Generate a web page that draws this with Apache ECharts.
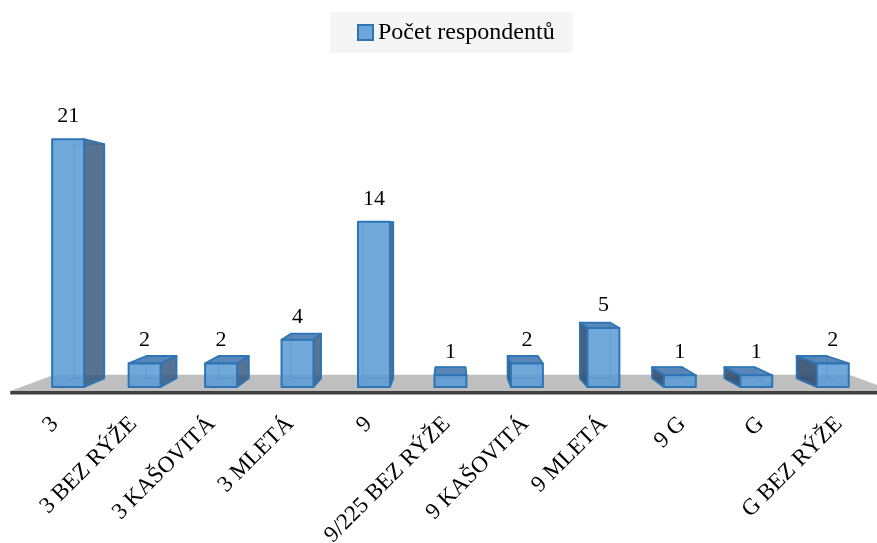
<!DOCTYPE html>
<html>
<head>
<meta charset="utf-8">
<script src="https://cdn.jsdelivr.net/npm/echarts@6/dist/echarts.min.js"></script>
<style>
  html, body { margin: 0; padding: 0; background: #ffffff; }
  #chart { width: 877px; height: 543px; }
</style>
</head>
<body>
<div id="chart"></div>
<script>
// Categories and counts
const categories = ['3', '3 BEZ RÝŽE', '3 KAŠOVITÁ', '3 MLETÁ', '9', '9/225 BEZ RÝŽE',
  '9 KAŠOVITÁ', '9 MLETÁ', '9 G', 'G', 'G BEZ RÝŽE'];
const respondents = [21, 2, 2, 4, 14, 1, 2, 5, 1, 1, 2];
const seriesName = 'Počet respondentů';
const yMax = 25;

// Perspective set-up: the axis plane is the front edge of the floor,
// everything else is scaled toward a vanishing point at the grid centre.
const HORIZON = 0.4645;     // vanishing point height as a share of grid height
const BAR_FRONT = 0.9753;   // scale of the bars' front faces
const BAR_BACK = 0.9217;    // scale of the bars' back faces
const FLOOR_BACK = 0.90;    // scale of the floor's back edge
const BAR_RATIO = 0.418;    // bar width as a share of the category band

const SERIF = '"Liberation Serif", "Times New Roman", serif';

function vanishing(cs) {
  return [cs.x + cs.width / 2, cs.y + cs.height * HORIZON];
}

function renderFloor(params, api) {
  const cs = params.coordSys;
  const [vx, vy] = vanishing(cs);
  const proj = (x, y, s) => [vx + (x - vx) * s, vy + (y - vy) * s];
  const y0 = api.coord([0, 0])[1];
  const xl = cs.x - 9;
  const xr = cs.x + cs.width + 12;
  return {
    type: 'group',
    children: [
      {
        type: 'polygon',
        shape: { points: [[xl, y0], [xr, y0], proj(xr, y0, FLOOR_BACK), proj(xl, y0, FLOOR_BACK)] },
        style: { fill: '#BFBFBF' }
      },
      {
        type: 'rect',
        shape: { x: xl, y: y0, width: xr - xl, height: 3.5 },
        style: { fill: '#404040' }
      }
    ]
  };
}

function renderBar(params, api) {
  const cs = params.coordSys;
  const [vx, vy] = vanishing(cs);
  const proj = (x, y, s) => [vx + (x - vx) * s, vy + (y - vy) * s];
  const idx = api.value(0);
  const val = api.value(1);
  const base = api.coord([idx, 0]);
  const top = api.coord([idx, val]);
  const half = api.size([1, 0])[0] * BAR_RATIO / 2;
  const xl = base[0] - half, xr = base[0] + half;
  const yb = base[1], yt = top[1];

  const F = [proj(xl, yt, BAR_FRONT), proj(xr, yt, BAR_FRONT), proj(xr, yb, BAR_FRONT), proj(xl, yb, BAR_FRONT)];
  const B = [proj(xl, yt, BAR_BACK), proj(xr, yt, BAR_BACK), proj(xr, yb, BAR_BACK), proj(xl, yb, BAR_BACK)];

  const edge = '#2E75B6';
  const hidden = 'rgba(46,117,182,0.6)';
  const children = [];

  // edges behind the translucent faces
  children.push({
    type: 'polyline',
    shape: { points: [B[0], B[1], B[2], B[3], B[0]] },
    style: { stroke: hidden, lineWidth: 1.2, fill: null }
  });
  children.push({ type: 'line', shape: { x1: F[3][0], y1: F[3][1], x2: B[3][0], y2: B[3][1] },
    style: { stroke: hidden, lineWidth: 1.2 } });
  children.push({ type: 'line', shape: { x1: F[2][0], y1: F[2][1], x2: B[2][0], y2: B[2][1] },
    style: { stroke: hidden, lineWidth: 1.2 } });

  // side face turned toward the centre
  if (xr < vx) {
    children.push({
      type: 'polygon',
      shape: { points: [F[1], B[1], B[2], F[2]] },
      style: { fill: 'rgba(58,92,130,0.86)', stroke: edge, lineWidth: 1.8, lineJoin: 'round' }
    });
  } else if (xl > vx) {
    children.push({
      type: 'polygon',
      shape: { points: [F[0], B[0], B[3], F[3]] },
      style: { fill: 'rgba(50,78,112,0.9)', stroke: edge, lineWidth: 1.8, lineJoin: 'round' }
    });
  }

  // top face, seen only below the horizon
  if (F[0][1] > vy) {
    children.push({
      type: 'polygon',
      shape: { points: [F[0], F[1], B[1], B[0]] },
      style: { fill: 'rgba(72,122,178,0.9)', stroke: edge, lineWidth: 1.8, lineJoin: 'round' }
    });
  }

  // front face
  children.push({
    type: 'polygon',
    shape: { points: F },
    style: { fill: 'rgba(91,155,213,0.86)', stroke: edge, lineWidth: 2, lineJoin: 'round' }
  });

  // value label
  children.push({
    type: 'text',
    x: (F[0][0] + F[1][0]) / 2,
    y: F[0][1] - 23,
    style: {
      text: String(val),
      fill: '#000000',
      font: '22px ' + SERIF,
      align: 'center',
      verticalAlign: 'middle'
    }
  });

  return { type: 'group', children };
}

const chart = echarts.init(document.getElementById('chart'), null, { renderer: 'canvas' });

chart.setOption({
  animation: false,
  backgroundColor: '#ffffff',
  legend: {
    data: [{ name: seriesName, icon: 'rect' }],
    left: 330,
    top: 12,
    padding: [8, 18, 8, 27],
    backgroundColor: '#F5F5F5',
    itemWidth: 15,
    itemHeight: 15,
    selectedMode: false,
    textStyle: { fontFamily: SERIF, fontSize: 24, color: '#000000', lineHeight: 25 }
  },
  grid: {
    left: 19.25,
    top: 88.5,
    width: 862.4,
    height: 302.5,
    containLabel: false,
    outerBoundsMode: 'none'
  },
  xAxis: {
    type: 'category',
    data: categories,
    axisLine: { show: false },
    axisTick: { show: false },
    axisLabel: {
      interval: 0,
      rotate: 45,
      margin: 26,
      padding: [0, 5, 0, 0],
      fontFamily: SERIF,
      fontSize: 23,
      color: '#000000'
    }
  },
  yAxis: {
    type: 'value',
    min: 0,
    max: yMax,
    show: false,
    splitLine: { show: false }
  },
  series: [
    {
      name: 'floor',
      type: 'custom',
      silent: true,
      z: 1,
      renderItem: renderFloor,
      data: [[0]]
    },
    {
      name: seriesName,
      type: 'custom',
      z: 2,
      itemStyle: { color: '#6FA5DA', borderColor: '#2E75B6', borderWidth: 1.5 },
      encode: { x: 0, y: 1 },
      renderItem: renderBar,
      data: respondents.map((v, i) => [i, v])
    }
  ]
});
</script>
</body>
</html>
